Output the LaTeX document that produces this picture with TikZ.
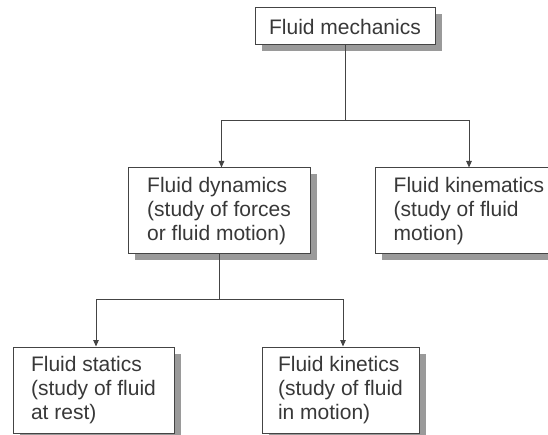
\documentclass[tikz,border=0pt]{standalone}
\usepackage{fontspec}
\setmainfont{Liberation Sans}
\usetikzlibrary{arrows.meta,shadows}
\definecolor{linegray}{HTML}{444444}
\definecolor{textgray}{HTML}{383838}
\definecolor{shadowgray}{HTML}{9A9A9A}
\tikzset{
  box/.style={draw=linegray, line width=1pt, fill=white, text=textgray,
    font=\fontsize{21}{24}\selectfont, align=left, inner xsep=0pt, inner ysep=0pt,
    drop shadow={shadow xshift=6.5pt, shadow yshift=-6.5pt, fill=shadowgray, opacity=1}},
  conn/.style={draw=linegray, line width=1pt},
  arr/.style={conn, -{Triangle[length=6.5pt,width=5.5pt]}}
}
\begin{document}
\begin{tikzpicture}[x=1pt,y=-1pt]
  \clip (0,0) rectangle (548,435);
  \node[box, minimum width=180pt, minimum height=37pt](mech) at (345,26.5){Fluid mechanics};
  \node[box, minimum width=182pt, minimum height=86pt](dyn) at (219,211){Fluid dynamics\\(study of forces\\or fluid motion)};
  \node[box, minimum width=188pt, minimum height=86pt](kinm) at (469,211){Fluid kinematics\\(study of fluid\\motion)};
  \node[box, minimum width=161pt, minimum height=86pt](stat) at (93.5,390){Fluid statics\\(study of fluid\\at rest)};
  \node[box, minimum width=157pt, minimum height=86pt](kint) at (340.5,390){Fluid kinetics\\(study of fluid\\in motion)};
  \draw[conn] (mech.south) -- ++(0,75) coordinate (s1);
  \draw[arr] (s1) -| ([xshift=2.5pt]dyn.north);
  \draw[arr] (s1) -| (kinm.north);
  \draw[conn] (dyn.south) -- ++(0,45) coordinate (s2);
  \draw[arr] (s2) -| ([xshift=2.5pt]stat.north);
  \draw[arr] (s2) -| ([xshift=2.5pt]kint.north);
\end{tikzpicture}
\end{document}
